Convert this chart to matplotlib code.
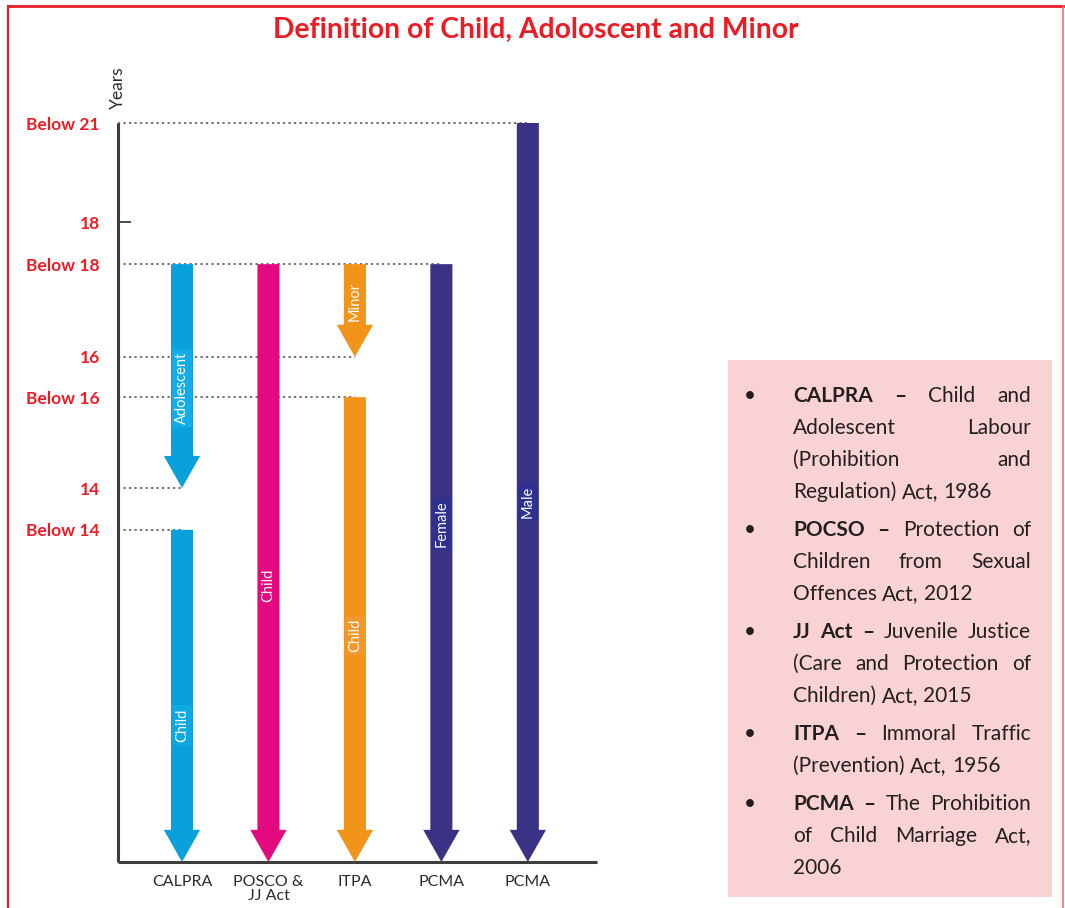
"""
Definition of Child, Adoloscent and Minor - age arrows per act
"""
import matplotlib
matplotlib.use('Agg')
import matplotlib.pyplot as plt
from matplotlib.lines import Line2D
from matplotlib.patches import Rectangle


# ###
# data
# ###
LEVEL_LABELS = ['Below 21', '18', 'Below 18', '16', 'Below 16', '14', 'Below 14']
LEVEL_VALUES = [20.0, 17.32, 16.18, 13.67, 12.58, 10.12, 8.99]
GUIDE_END    = [4, None, 3, 2, 2, 0, 0]      # category where the dotted guide stops

ACT_LABELS = ['CALPRA', 'POSCO &\nJJ Act', 'ITPA', 'PCMA', 'PCMA']

ARROW_CAT     = [0, 0, 1, 2, 2, 3, 4]
ARROW_FROM    = ['Below 18', 'Below 14', 'Below 18', 'Below 18', 'Below 16', 'Below 18', 'Below 21']
ARROW_TO      = ['14', 'axis', 'axis', '16', 'axis', 'axis', 'axis']
ARROW_TEXT    = ['Adolescent', 'Child', 'Child', 'Minor', 'Child', 'Female', 'Male']
ARROW_TEXT_AT = [12.83, 3.71, 7.5, 15.18, 6.14, 9.15, 9.74]

NOTES = [
    [[('CALPRA', 1), ('–', 1), ('Child', 0), ('and', 0)],
     [('Adolescent', 0), ('Labour', 0)],
     [('(Prohibition', 0), ('and', 0)],
     [('Regulation)', 0), ('Act,', 0), ('1986', 0)]],
    [[('POCSO', 1), ('–', 1), ('Protection', 0), ('of', 0)],
     [('Children', 0), ('from', 0), ('Sexual', 0)],
     [('Offences', 0), ('Act,', 0), ('2012', 0)]],
    [[('JJ', 1), ('Act', 1), ('–', 1), ('Juvenile', 0), ('Justice', 0)],
     [('(Care', 0), ('and', 0), ('Protection', 0), ('of', 0)],
     [('Children)', 0), ('Act,', 0), ('2015', 0)]],
    [[('ITPA', 1), ('–', 1), ('Immoral', 0), ('Traffic', 0)],
     [('(Prevention)', 0), ('Act,', 0), ('1956', 0)]],
    [[('PCMA', 1), ('–', 1), ('The', 0), ('Prohibition', 0)],
     [('of', 0), ('Child', 0), ('Marriage', 0), ('Act,', 0)],
     [('2006', 0)]],
]


# ###
# style
# ###
FIG_W, FIG_H = 1065, 908
RED        = '#ec1c24'
AXIS_GRAY  = '#3d3d3d'
TEXT_DARK  = '#231f20'
ARROW_COLOR = ['#0aa0dc', '#0aa0dc', '#e4097e', '#f3941a', '#f3941a', '#3a3285', '#3a3285']
LABEL_BG    = ['#12ace6', '#0ea8e2', '#e4097e', '#f3941a', '#f4962a', '#2f3090', '#2f3090']
FONT = 'Lato'


def fx(x):
    return x / FIG_W


def fy(y):
    return 1 - y / FIG_H


def draw_note_line(fig, renderer, words, x0, x1, y, justify):
    texts, widths = [], []
    for word, bold in words:
        t = fig.text(0, 0, word, fontsize=15, family=FONT, color=TEXT_DARK,
                     fontweight='bold' if bold else 'normal', va='baseline', ha='left')
        texts.append(t)
        widths.append(t.get_window_extent(renderer).width)
    sp = fig.text(0, 0, 'x x', fontsize=15, family=FONT)
    nsp = fig.text(0, 0, 'xx', fontsize=15, family=FONT)
    space = sp.get_window_extent(renderer).width - nsp.get_window_extent(renderer).width
    sp.remove()
    nsp.remove()
    if justify and len(words) > 1:
        gap = (x1 - x0 - sum(widths)) / (len(words) - 1)
    else:
        gap = space
    x = x0
    for t, w in zip(texts, widths):
        t.set_position((fx(x), fy(y)))
        x += w + gap


def main():
    fig = plt.figure(figsize=(FIG_W / 100, FIG_H / 100), dpi=100, facecolor='w')
    level = dict(zip(LEVEL_LABELS, LEVEL_VALUES))
    level['axis'] = 0.0

    # frame
    fig.add_artist(Line2D([fx(8), fx(8)], [0, fy(6)], color=RED, lw=1.6))
    fig.add_artist(Line2D([fx(8), fx(1063)], [fy(6), fy(6)], color=RED, lw=2.0))
    fig.add_artist(Line2D([fx(1063), fx(1063)], [0, fy(6)], color='#f07070', lw=1.2))

    # title
    fig.text(fx(536), fy(38), 'Definition of Child, Adoloscent and Minor', family=FONT,
             fontsize=20.3, fontweight='bold', color=RED, ha='center', va='baseline')

    # chart
    ax = fig.add_axes([fx(118), 46 / FIG_H, 479 / FIG_W, 739 / FIG_H])
    ax.set_xlim(-0.74, 4.80)
    ax.set_ylim(0, 20)
    for side in ['top', 'right']:
        ax.spines[side].set_visible(False)
    for side in ['left', 'bottom']:
        ax.spines[side].set_color(AXIS_GRAY)
        ax.spines[side].set_linewidth(2.2)
        ax.spines[side].set_capstyle('butt')

    ax.yaxis.remove_overlapping_locs = False
    ax.set_yticks(LEVEL_VALUES, LEVEL_LABELS)
    ax.set_yticks([level['18']], minor=True)
    ax.tick_params(axis='y', which='major', length=0, pad=13)
    ax.tick_params(axis='y', which='minor', direction='in', length=9, width=1.3, color=AXIS_GRAY)
    for lab in ax.get_yticklabels():
        lab.set_fontfamily(FONT)
        lab.set_fontweight('bold')
        lab.set_fontsize(12.5)
        lab.set_color(RED)

    ax.set_xticks(range(len(ACT_LABELS)), ACT_LABELS)
    ax.tick_params(axis='x', length=0, pad=9)
    for lab in ax.get_xticklabels():
        lab.set_fontfamily(FONT)
        lab.set_fontsize(11.5)
        lab.set_color('#2a2a2a')
        lab.set_linespacing(1.0)

    # dotted guides
    for val, end in zip(LEVEL_VALUES, GUIDE_END):
        if end is None:
            continue
        ax.plot([-0.74, end], [val, val], color='#555555', lw=1.2,
                linestyle=(0, (1.3, 2.0)), zorder=1, clip_on=False)

    # arrows
    for cat, a, b, txt, at, c, bg in zip(ARROW_CAT, ARROW_FROM, ARROW_TO, ARROW_TEXT,
                                         ARROW_TEXT_AT, ARROW_COLOR, LABEL_BG):
        y0, y1 = level[a], level[b]
        ax.arrow(cat, y0, 0, y1 - y0, width=0.255, head_width=0.42, head_length=0.87,
                 length_includes_head=True, color=c, lw=0, zorder=3)
        ax.text(cat, at, txt, rotation=90, ha='center', va='center', color='w',
                family=FONT, fontsize=10.5, zorder=4,
                bbox=dict(boxstyle='square,pad=0.2', fc=bg, ec='none'))

    fig.text(fx(118), fy(88), 'Years', rotation=90, ha='center', va='center',
             family=FONT, fontsize=12.5, color='#2a2a2a')

    # notes box
    fig.add_artist(Rectangle((fx(728), fy(897)), fx(1052) - fx(728), fy(360) - fy(897),
                             transform=fig.transFigure, fc='#f9d2d3', ec='none', zorder=0))
    renderer = fig.canvas.get_renderer()
    y = 402
    for para in NOTES:
        fig.text(fx(750), fy(y), '•', family=FONT, fontsize=15, color=TEXT_DARK,
                 ha='center', va='baseline')
        for i, words in enumerate(para):
            draw_note_line(fig, renderer, words, 793, 1031, y, i < len(para) - 1)
            y += 32
        y += 6

    fig.savefig('out.png', dpi=100, facecolor='w')
    plt.close(fig)


if __name__ == '__main__':
    main()
